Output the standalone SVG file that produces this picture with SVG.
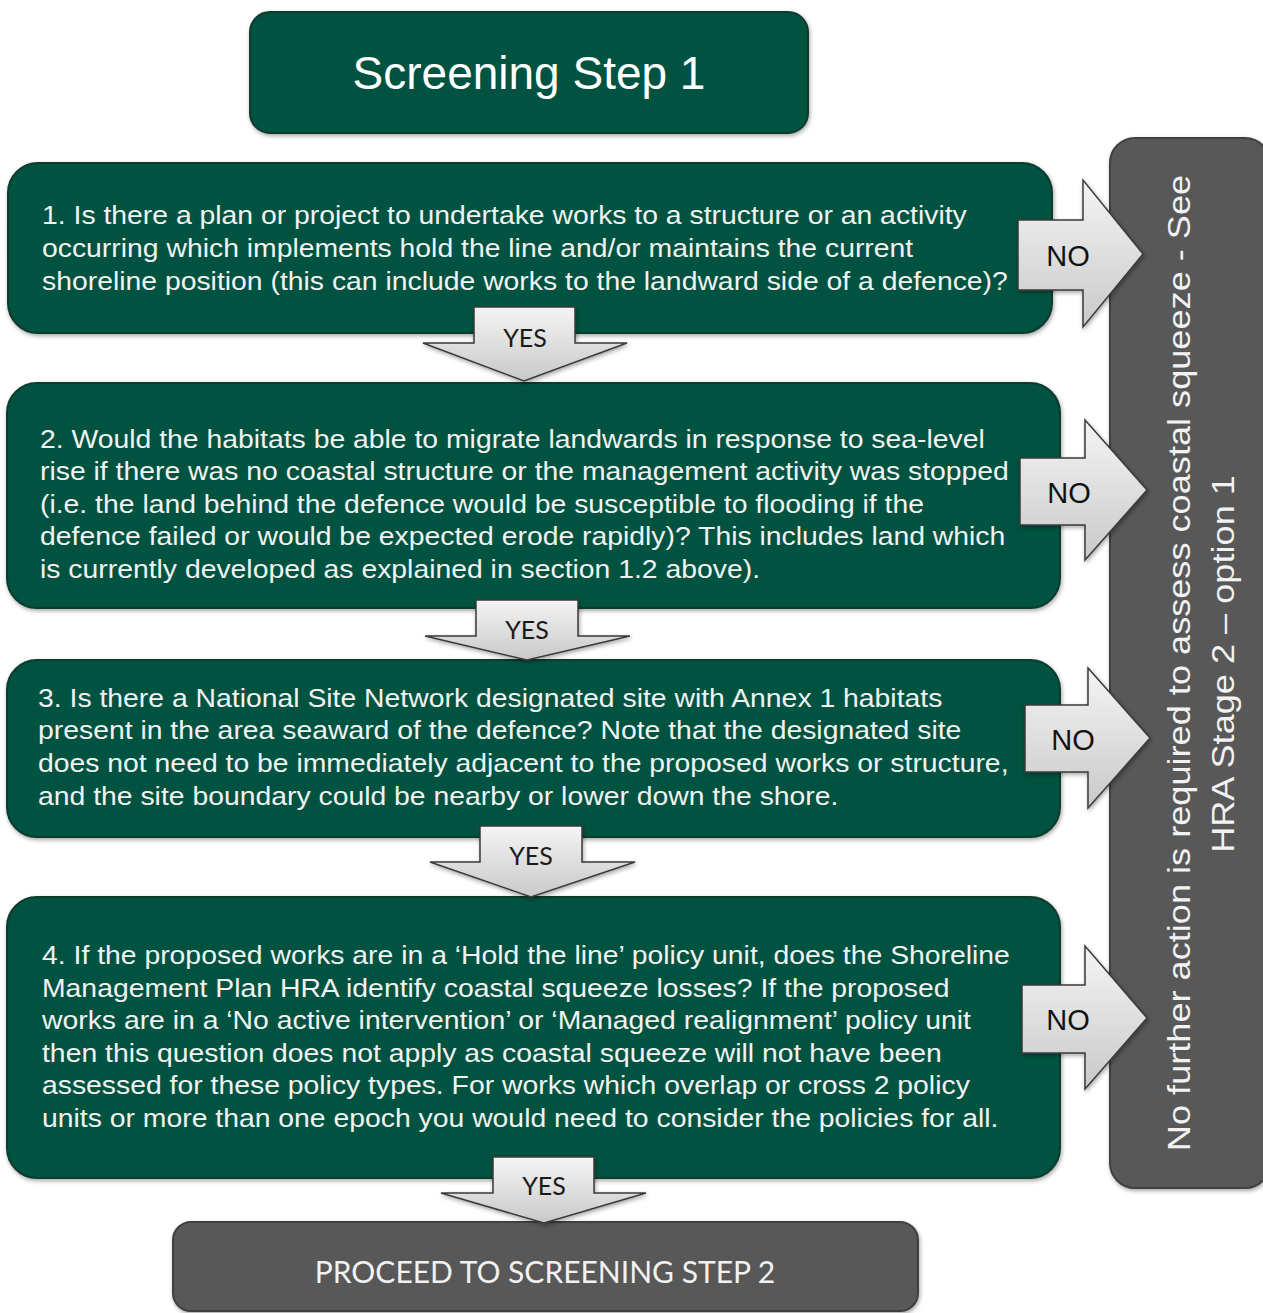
<svg xmlns="http://www.w3.org/2000/svg" width="1263" height="1313" viewBox="0 0 1263 1313">
<style>
.box{fill:#03523f;stroke:#0b3a2f;stroke-width:2}
.gbox{fill:#595959;stroke:#404040;stroke-width:2}
.t{font-family:"Liberation Sans",Arial,sans-serif;font-size:25.5px;fill:#f2f2f2}
.title{font-family:"Liberation Sans",Arial,sans-serif;font-size:46px;fill:#ffffff;text-anchor:middle}
.side{font-family:"Liberation Sans",Arial,sans-serif;font-size:32px;fill:#f2f2f2;text-anchor:middle}
.arr{fill:url(#ag);stroke:#3a3a3a;stroke-width:1.5;stroke-linejoin:miter}
.yes{font-family:Lato,"Open Sans",sans-serif;font-size:25px;fill:#1a1a1a;text-anchor:middle}
.no{font-family:"Liberation Sans",Arial,sans-serif;font-size:29px;fill:#111;text-anchor:middle}
.proc{font-family:Lato,"Open Sans",sans-serif;font-size:30px;fill:#f2f2f2;text-anchor:middle}
</style>
<defs>
<linearGradient id="ag" x1="0" y1="0" x2="0" y2="1">
<stop offset="0" stop-color="#f4f4f4"/>
<stop offset="1" stop-color="#c9c9c9"/>
</linearGradient>
<filter id="sh" x="-5%" y="-5%" width="110%" height="115%">
<feDropShadow dx="1" dy="2" stdDeviation="2" flood-color="#000" flood-opacity="0.35"/>
</filter>
</defs>
<rect width="1263" height="1313" fill="#ffffff"/>

<g id="title">
<rect class="box" x="250" y="12" width="558" height="121" rx="20" filter="url(#sh)"/>
<text class="title" x="529" y="89">Screening Step 1</text>
</g>

<g id="side">
<rect class="gbox" x="1110" y="138" width="160" height="1050" rx="25" filter="url(#sh)"/>
<text class="side" transform="translate(1190,663) rotate(-90) scale(1.13,1)">No further action is required to assess coastal squeeze - See</text>
<text class="side" transform="translate(1234,664) rotate(-90) scale(1.13,1)">HRA Stage 2 – option 1</text>
</g>

<g id="q1">
<rect class="box" x="8" y="163" width="1044" height="170" rx="30" filter="url(#sh)"/>
<g transform="translate(42,0) scale(1.112,1)">
<text class="t" x="0" y="224">1. Is there a plan or project to undertake works to a structure or an activity</text>
<text class="t" x="0" y="257">occurring which implements hold the line and/or maintains the current</text>
<text class="t" x="0" y="290">shoreline position (this can include works to the landward side of a defence)?</text>
</g>
</g>

<g id="q2">
<rect class="box" x="7" y="383" width="1053" height="225" rx="30" filter="url(#sh)"/>
<g transform="translate(40,0) scale(1.112,1)">
<text class="t" x="0" y="448">2. Would the habitats be able to migrate landwards in response to sea-level</text>
<text class="t" x="0" y="480.5">rise if there was no coastal structure or the management activity was stopped</text>
<text class="t" x="0" y="513">(i.e. the land behind the defence would be susceptible to flooding if the</text>
<text class="t" x="0" y="545.5">defence failed or would be expected erode rapidly)? This includes land which</text>
<text class="t" x="0" y="578">is currently developed as explained in section 1.2 above).</text>
</g>
</g>

<g id="q3">
<rect class="box" x="7" y="660" width="1053" height="177" rx="30" filter="url(#sh)"/>
<g transform="translate(38,0) scale(1.112,1)">
<text class="t" x="0" y="707">3. Is there a National Site Network designated site with Annex 1 habitats</text>
<text class="t" x="0" y="739.5">present in the area seaward of the defence? Note that the designated site</text>
<text class="t" x="0" y="772">does not need to be immediately adjacent to the proposed works or structure,</text>
<text class="t" x="0" y="805">and the site boundary could be nearby or lower down the shore.</text>
</g>
</g>

<g id="q4">
<rect class="box" x="7" y="897" width="1053" height="281" rx="30" filter="url(#sh)"/>
<g transform="translate(42,0) scale(1.112,1)">
<text class="t" x="0" y="964">4. If the proposed works are in a ‘Hold the line’ policy unit, does the Shoreline</text>
<text class="t" x="0" y="997">Management Plan HRA identify coastal squeeze losses? If the proposed</text>
<text class="t" x="0" y="1029">works are in a ‘No active intervention’ or ‘Managed realignment’ policy unit</text>
<text class="t" x="0" y="1062">then this question does not apply as coastal squeeze will not have been</text>
<text class="t" x="0" y="1094">assessed for these policy types. For works which overlap or cross 2 policy</text>
<text class="t" x="0" y="1127">units or more than one epoch you would need to consider the policies for all.</text>
</g>
</g>

<g id="proceed">
<rect class="gbox" x="173" y="1222" width="745" height="89" rx="18" filter="url(#sh)"/>
<text class="proc" x="545" y="1283">PROCEED TO SCREENING STEP 2</text>
</g>

<g id="connectors">
<g filter="url(#sh)">
<polygon class="arr" points="474,307 575,307 575,343 627,343 524,381 423,343 474,343"/>
<polygon class="arr" points="476,600 578,600 578,636 630,636 527,660 425,636 476,636"/>
<polygon class="arr" points="480,826 582,826 582,862 635,862 531,897 430,862 480,862"/>
<polygon class="arr" points="493,1157 594,1157 594,1193 646,1193 544,1223 441,1193 493,1193"/>
<polygon class="arr" points="1018,220 1083,220 1083,180 1143,254 1083,327 1083,290 1018,290"/>
<polygon class="arr" points="1020,458 1085,458 1085,420 1147,490 1085,560 1085,525 1020,525"/>
<polygon class="arr" points="1025,705 1088,705 1088,668 1150,738 1088,808 1088,772 1025,772"/>
<polygon class="arr" points="1022,985 1085,985 1085,946 1147,1018 1085,1089 1085,1053 1022,1053"/>
</g>
<text class="yes" x="525" y="347">YES</text>
<text class="yes" x="527" y="639">YES</text>
<text class="yes" x="531" y="865">YES</text>
<text class="yes" x="544" y="1195">YES</text>
<text class="no" x="1068" y="266">NO</text>
<text class="no" x="1069" y="503">NO</text>
<text class="no" x="1073" y="750">NO</text>
<text class="no" x="1068" y="1030">NO</text>
</g>
</svg>
